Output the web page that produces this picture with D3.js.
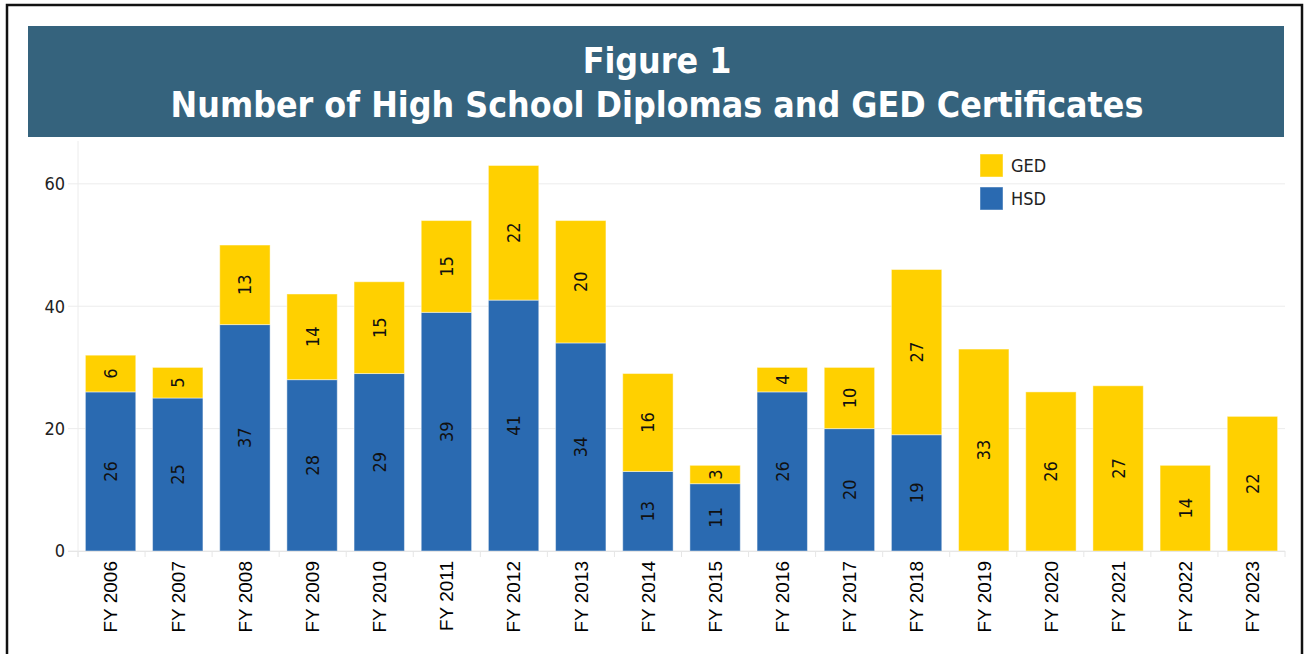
<!DOCTYPE html>
<html>
<head>
<meta charset="utf-8">
<script src="https://cdn.jsdelivr.net/npm/d3@7/dist/d3.min.js"></script>
<style>
body { margin: 0; background: #fff; }
</style>
</head>
<body>
<div id="container"></div>
<script>
var years = ['FY 2006', 'FY 2007', 'FY 2008', 'FY 2009', 'FY 2010', 'FY 2011', 'FY 2012', 'FY 2013', 'FY 2014',
    'FY 2015', 'FY 2016', 'FY 2017', 'FY 2018', 'FY 2019', 'FY 2020', 'FY 2021', 'FY 2022', 'FY 2023'];
var hsdValues = [26, 25, 37, 28, 29, 39, 41, 34, 13, 11, 26, 20, 19, 0, 0, 0, 0, 0];
var gedValues = [6, 5, 13, 14, 15, 15, 22, 20, 16, 3, 4, 10, 27, 33, 26, 27, 14, 22];
var yTicks = [0, 20, 40, 60];
var legendNames = ['GED', 'HSD'];
var titleLines = ['Figure 1', 'Number of High School Diplomas and GED Certificates'];

var width = 1308;
var height = 654;
var colors = { HSD: '#2a6ab1', GED: '#ffd000' };
var condensed = "'DejaVu Sans Condensed', 'DejaVu Sans', sans-serif";

var rows = years.map(function (y, i) {
    return { year: y, HSD: hsdValues[i], GED: gedValues[i] };
});

var svg = d3.select('#container').append('svg')
    .attr('width', width)
    .attr('height', height);

// outer frame
svg.append('rect')
    .attr('x', 7).attr('y', 5)
    .attr('width', 1295).attr('height', 660)
    .attr('fill', '#fff')
    .attr('stroke', '#111')
    .attr('stroke-width', 2.5);

// title banner
svg.append('rect')
    .attr('x', 28).attr('y', 26)
    .attr('width', 1256).attr('height', 111)
    .attr('fill', '#35637d');

var titles = svg.selectAll('.title')
    .data(titleLines)
    .enter().append('text')
    .attr('class', 'title')
    .attr('x', 657)
    .attr('y', function (d, i) { return i == 0 ? 73 : 117; })
    .attr('text-anchor', 'middle')
    .attr('fill', '#fff')
    .attr('font-family', condensed)
    .attr('font-weight', 'bold')
    .attr('font-size', 36)
    .text(function (d) { return d; });

// fit the long title line to the width it has in the picture
var longTitle = titles.filter(function (d, i) { return i == 1; });
var len = longTitle.node().getComputedTextLength();
var fitSize = 36 * 973 / len;
titles.attr('font-size', fitSize);

var x = d3.scaleBand()
    .domain(years)
    .range([78, 1285])
    .paddingInner(0.25)
    .paddingOuter(0.11);

var y = d3.scaleLinear()
    .domain([0, 67])
    .range([551, 141]);

var grid = svg.append('g');
grid.selectAll('line')
    .data(yTicks)
    .enter().append('line')
    .attr('x1', 68).attr('x2', 1285)
    .attr('y1', function (d) { return y(d); })
    .attr('y2', function (d) { return y(d); })
    .attr('stroke', '#ececec')
    .attr('stroke-width', 1);

// left axis line
svg.append('line')
    .attr('x1', 78).attr('x2', 78)
    .attr('y1', 141).attr('y2', 557)
    .attr('stroke', '#ececec');

svg.append('g')
    .selectAll('text')
    .data(yTicks)
    .enter().append('text')
    .attr('x', 65)
    .attr('y', function (d) { return y(d); })
    .attr('dy', '0.36em')
    .attr('text-anchor', 'end')
    .attr('fill', '#222')
    .attr('font-family', condensed)
    .attr('font-size', 18)
    .text(function (d) { return d; });

var stack = d3.stack().keys(['HSD', 'GED']);
var series = stack(rows);

var layers = svg.append('g').selectAll('g')
    .data(series)
    .enter().append('g')
    .attr('fill', function (d) { return colors[d.key]; });

layers.selectAll('rect')
    .data(function (d) { return d.filter(function (p) { return p[1] > p[0]; }); })
    .enter().append('rect')
    .attr('x', function (d) { return x(d.data.year); })
    .attr('y', function (d) { return y(d[1]); })
    .attr('width', x.bandwidth())
    .attr('height', function (d) { return y(d[0]) - y(d[1]); })
    .attr('stroke', '#fff')
    .attr('stroke-opacity', 0.45)
    .attr('stroke-width', 1);

layers.selectAll('text')
    .data(function (d) { return d.filter(function (p) { return p[1] > p[0]; }); })
    .enter().append('text')
    .attr('transform', function (d) {
        var cx = x(d.data.year) + x.bandwidth() / 2;
        var cy = y((d[0] + d[1]) / 2);
        return 'translate(' + cx + ',' + cy + ') rotate(-90)';
    })
    .attr('dy', '0.36em')
    .attr('text-anchor', 'middle')
    .attr('fill', '#111')
    .attr('font-family', condensed)
    .attr('font-size', 18)
    .text(function (d) { return d[1] - d[0]; });

// bottom axis
var xAxis = svg.append('g');
xAxis.append('line')
    .attr('x1', 68).attr('x2', 1285)
    .attr('y1', 551.5).attr('y2', 551.5)
    .attr('stroke', '#e6e6e6');

var step = x.step();
xAxis.selectAll('.tick')
    .data(d3.range(years.length + 1))
    .enter().append('line')
    .attr('class', 'tick')
    .attr('x1', function (i) { return 78 + i * (1207 / years.length); })
    .attr('x2', function (i) { return 78 + i * (1207 / years.length); })
    .attr('y1', 551).attr('y2', 557)
    .attr('stroke', '#e6e6e6');

xAxis.selectAll('text')
    .data(years)
    .enter().append('text')
    .attr('transform', function (d) {
        return 'translate(' + (x(d) + x.bandwidth() / 2) + ',561) rotate(-90)';
    })
    .attr('dy', '0.36em')
    .attr('text-anchor', 'end')
    .attr('fill', '#000')
    .attr('font-family', "'Liberation Sans', Arial, sans-serif")
    .attr('font-size', 19)
    .text(function (d) { return d; });

// legend
var legend = svg.append('g').selectAll('g')
    .data(legendNames)
    .enter().append('g')
    .attr('transform', function (d, i) { return 'translate(980,' + (154 + i * 33) + ')'; });

legend.append('rect')
    .attr('width', 23).attr('height', 23)
    .attr('fill', function (d) { return colors[d]; })
    .attr('stroke', '#fff')
    .attr('stroke-opacity', 0.45);

legend.append('text')
    .attr('x', 31)
    .attr('y', 12)
    .attr('dy', '0.36em')
    .attr('fill', '#222')
    .attr('font-family', condensed)
    .attr('font-size', 18)
    .text(function (d) { return d; });
</script>
</body>
</html>
